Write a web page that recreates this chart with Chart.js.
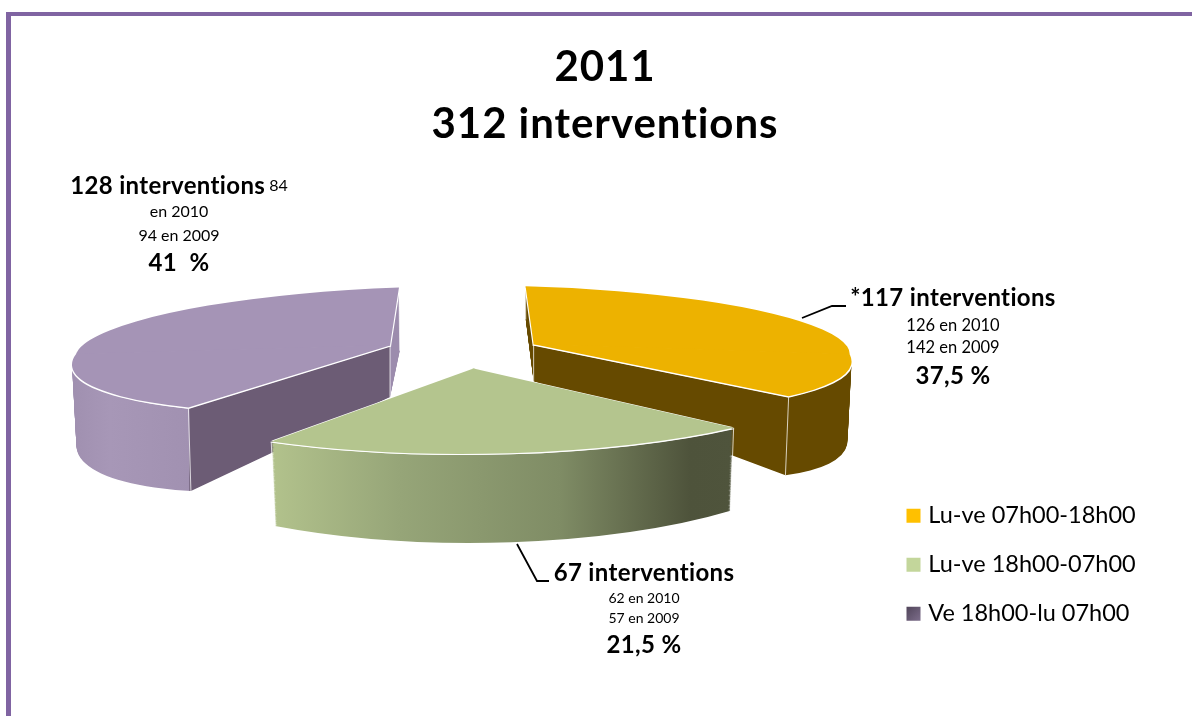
<!DOCTYPE html>
<html>
<head>
  <title>2011 - 312 interventions</title>
  <script src="https://cdn.jsdelivr.net/npm/chart.js"></script>
  <style>
    body { margin: 0; background: #fff; overflow: hidden; }
    canvas { position: absolute; left: 0; top: 0; }
    .frame { position: absolute; background: #8064a2; }
    .frame.top { left: 6px; right: 0; top: 12px; height: 4px; }
    .frame.left { left: 6px; top: 12px; bottom: 0; width: 5px; }
  </style>
</head>
<body>
  <div class="frame top"></div>
  <div class="frame left"></div>
  <canvas id="pie" width="1192" height="716"></canvas>
  <script>
    const titleLines = ['2011', '312 interventions'];
    const categories = ['Lu-ve 07h00-18h00', 'Lu-ve 18h00-07h00', 'Ve 18h00-lu 07h00'];
    const interventions = [117, 67, 128];

    // one row per text line: [bold part, regular part]
    const calloutYellow = [['*117 interventions', ''], ['', '126 en 2010'], ['', '142 en 2009'], ['37,5 %', '']];
    const calloutGreen = [['67 interventions', ''], ['', '62 en 2010'], ['', '57 en 2009'], ['21,5 %', '']];
    const calloutPurple = [['128 interventions', ' 84'], ['', 'en 2010'], ['', '94 en 2009'], ['41  %', '']];

    const sliceColors = ['#edb200', '#b4c58e', '#a594b6'];
    const swatchColors = ['#ffc000', '#c3d69b', ['#4f4358', '#7b6c89']];

    const FONT = 'Lato';
    const RADIUS = 316;
    const EXPLODE = 78;
    const TILT = 0.24;
    const LAYERS = 100;
    const PIE_SHIFT_X = -11;

    // the 3d look: an affine map for the top and the bottom face of each slice
    const faces = [
      {
        top: { dx: -1, dy: 2, sx: 1, sy: 0.032, back: [-0.0095, 0.1824], front: [0.111, 0.207] },
        bottom: { dx: -1, dy: 39, sx: 0.987, sy: 0.161, back: [-0.0095, 0.19], front: [0.11, 0.264] }
      },
      {
        top: { dx: -1.5, dy: 0, sx: 1.176, sy: 0.0048, back: [-0.054, 0.27], front: [-0.054, 0.27] },
        bottom: { dx: -3.5, dy: 65, sx: 1.16, sy: 0.012, back: [-0.042, 0.346], front: [-0.042, 0.346] }
      },
      {
        top: { dx: 2, dy: 0, sx: 0.994, sy: -0.028, back: [-0.063, 0.1845], front: [-0.158, 0.2115] },
        bottom: { dx: 2, dy: 51.5, sx: 0.98, sy: -0.11, back: [-0.065, 0.15], front: [-0.157, 0.281] }
      }
    ];

    const drawOrder = [2, 0, 1];

    function lerp(a, b, t) { return a + (b - a) * t; }

    function faceAt(arc, i, t) {
      const f = faces[i];
      const mid = (arc.startAngle + arc.endAngle) / 2;
      return {
        ax: arc.x + PIE_SHIFT_X + EXPLODE * Math.cos(mid) + lerp(f.top.dx, f.bottom.dx, t),
        ay: arc.y + EXPLODE * TILT * Math.sin(mid) + lerp(f.top.dy, f.bottom.dy, t),
        sx: lerp(f.top.sx, f.bottom.sx, t),
        sy: lerp(f.top.sy, f.bottom.sy, t),
        back: [lerp(f.top.back[0], f.bottom.back[0], t), lerp(f.top.back[1], f.bottom.back[1], t)],
        front: [lerp(f.top.front[0], f.bottom.front[0], t), lerp(f.top.front[1], f.bottom.front[1], t)]
      };
    }

    function paintFace(ctx, arc, p) {
      const R = arc.outerRadius;
      [p.back, p.front].forEach((half, n) => {
        ctx.save();
        ctx.translate(p.ax, p.ay);
        ctx.transform(p.sx, p.sy, half[0], half[1], 0, 0);
        ctx.translate(-arc.x, -arc.y);
        ctx.beginPath();
        ctx.rect(arc.x - 2 * R, n === 0 ? arc.y - 2 * R : arc.y - 2, 4 * R, 2 * R + 2);
        ctx.clip();
        arc.draw(ctx);
        ctx.restore();
      });
    }

    function cornerAt(arc, p, angle) {
      const u = arc.outerRadius * Math.cos(angle);
      const v = arc.outerRadius * Math.sin(angle);
      const half = v < 0 ? p.back : p.front;
      return [p.ax + p.sx * u + half[0] * v, p.ay + p.sy * u + half[1] * v];
    }

    // wall colours along the screen x axis
    function wallStops(arc, i) {
      if (i === 0) return [[0, '#664a00'], [1192, '#664a00']];
      if (i === 1) {
        return [[272, '#b2c28c'], [400, '#96a578'], [560, '#7f8c65'], [690, '#4e533b'], [736, '#4f543c']];
      }
      const mid = faceAt(arc, i, 0.5);
      const corner = cornerAt(arc, mid, arc.startAngle)[0];
      return [[73, '#a090b0'], [110, '#a797b7'], [corner - 0.5, '#a191b1'], [corner, '#6c5c75'],
        [mid.ax - 0.5, '#6c5c75'], [mid.ax, '#9c8cad'], [402, '#9c8cad']];
    }

    function paintWalls(ctx, arc, i) {
      const base = arc.options;
      const off = document.createElement('canvas');
      off.width = ctx.canvas.width;
      off.height = ctx.canvas.height;
      const offCtx = off.getContext('2d');
      arc.options = Object.assign({}, base, { backgroundColor: '#000' });
      for (let n = LAYERS; n > 0; n--) {
        paintFace(offCtx, arc, faceAt(arc, i, n / LAYERS));
      }
      arc.options = base;
      const stops = wallStops(arc, i);
      const x0 = stops[0][0];
      const x1 = stops[stops.length - 1][0];
      const grad = offCtx.createLinearGradient(x0, 0, x1, 0);
      stops.forEach(s => grad.addColorStop((s[0] - x0) / (x1 - x0), s[1]));
      offCtx.globalCompositeOperation = 'source-in';
      offCtx.fillStyle = grad;
      offCtx.fillRect(0, 0, off.width, off.height);
      ctx.drawImage(off, 0, 0);

      // pale seams on the wall corners
      ctx.save();
      ctx.strokeStyle = 'rgba(255,255,255,0.75)';
      ctx.lineWidth = 1;
      const t0 = faceAt(arc, i, 0);
      const t1 = faceAt(arc, i, 1);
      [arc.startAngle, arc.endAngle].forEach(a => {
        const up = cornerAt(arc, t0, a);
        const down = cornerAt(arc, t1, a);
        ctx.beginPath();
        ctx.moveTo(up[0], up[1]);
        ctx.lineTo(down[0], down[1]);
        ctx.stroke();
      });
      ctx.beginPath();
      ctx.moveTo(t0.ax, t0.ay);
      ctx.lineTo(t1.ax, t1.ay);
      ctx.stroke();
      ctx.restore();
    }

    // top face, with a thin white rim showing round it
    function paintTop(ctx, arc, i) {
      const base = arc.options;
      arc.options = Object.assign({}, base, { backgroundColor: '#fff' });
      [[1, 1.2], [-1, 1.2], [0, -0.6]].forEach(shift => {
        const p = faceAt(arc, i, 0);
        p.ax += shift[0];
        p.ay += shift[1];
        paintFace(ctx, arc, p);
      });
      arc.options = base;
      paintFace(ctx, arc, faceAt(arc, i, 0));
    }

    // Lato would join "ti" and runs narrower than the original font
    function setSpacing(ctx, px) {
      ctx.textRendering = 'optimizeSpeed';
      ctx.letterSpacing = px + 'px';
    }

    const slices3d = {
      id: 'slices3d',
      afterLayout(chart) {
        // legend sits low in the right column
        const legend = chart.legend;
        legend.left = 885;
        legend.top = 478.5;
        legend.bottom = 700;
        const title = chart.titleBlock;
        const drawTitle = title.draw;
        title.draw = function (area) {
          setSpacing(chart.ctx, 0.95);
          drawTitle.call(title, area);
          setSpacing(chart.ctx, 0);
        };
      },
      beforeDatasetsDraw(chart) {
        const ctx = chart.ctx;
        const arcs = chart.getDatasetMeta(0).data;
        drawOrder.forEach(i => {
          paintWalls(ctx, arcs[i], i);
          paintTop(ctx, arcs[i], i);
        });
        return false;
      }
    };

    function drawCallout(ctx, rows, cx, ys, sizes) {
      ctx.textBaseline = 'middle';
      ctx.textAlign = 'left';
      ctx.fillStyle = '#000';
      rows.forEach((row, r) => {
        const boldFont = 'bold ' + sizes.bold + 'px ' + FONT;
        const thinFont = sizes.thin + 'px ' + FONT;
        ctx.font = boldFont;
        setSpacing(ctx, 0.35);
        const w0 = ctx.measureText(row[0]).width;
        ctx.font = thinFont;
        setSpacing(ctx, 0);
        const w1 = ctx.measureText(row[1]).width;
        let x = cx - (w0 + w1) / 2;
        if (row[0]) {
          ctx.font = boldFont;
          setSpacing(ctx, 0.35);
          ctx.fillText(row[0], x, ys[r]);
          x += w0;
        }
        if (row[1]) {
          ctx.font = thinFont;
          setSpacing(ctx, 0);
          ctx.fillText(row[1], x, ys[r]);
        }
      });
    }

    function drawLeader(ctx, pts) {
      ctx.save();
      ctx.strokeStyle = '#000';
      ctx.lineWidth = 1.8;
      ctx.beginPath();
      pts.forEach((p, n) => (n ? ctx.lineTo(p[0], p[1]) : ctx.moveTo(p[0], p[1])));
      ctx.stroke();
      ctx.restore();
    }

    const callouts = {
      id: 'callouts',
      afterDraw(chart) {
        const ctx = chart.ctx;
        drawLeader(ctx, [[802, 318], [832, 306], [846, 306]]);
        drawLeader(ctx, [[517, 544], [537, 581], [549, 581]]);
        drawCallout(ctx, calloutYellow, 953, [298, 326, 348, 376], { bold: 24, thin: 16.5 });
        drawCallout(ctx, calloutGreen, 644, [573, 598, 618, 645], { bold: 24, thin: 14 });
        drawCallout(ctx, calloutPurple, 179, [186, 212, 236, 263], { bold: 24, thin: 16 });
      }
    };

    const canvas = document.getElementById('pie');

    function swatch(index) {
      const c = swatchColors[index];
      if (!Array.isArray(c)) return c;
      const grad = canvas.getContext('2d').createLinearGradient(906, 606, 920, 620);
      grad.addColorStop(0, c[0]);
      grad.addColorStop(1, c[1]);
      return grad;
    }

    new Chart(canvas, {
      type: 'pie',
      data: {
        labels: categories,
        datasets: [{
          data: interventions,
          backgroundColor: sliceColors,
          borderWidth: 0
        }]
      },
      plugins: [slices3d, callouts],
      options: {
        responsive: false,
        animation: false,
        events: [],
        rotation: -2,
        radius: RADIUS,
        layout: { padding: { left: 47, right: 29, top: 0, bottom: 177 } },
        plugins: {
          tooltip: { enabled: false },
          title: {
            display: true,
            text: titleLines,
            color: '#000',
            font: { family: FONT, weight: 'bold', size: 42, lineHeight: 57 / 42 },
            padding: { top: 39, bottom: 8 }
          },
          legend: {
            position: 'right',
            align: 'start',
            fullSize: false,
            labels: {
              color: '#000',
              font: { family: FONT, size: 23.5 },
              // small box plus a wide stroke: keeps the text close to a 14px swatch
              boxWidth: 6,
              boxHeight: 6,
              padding: 25.5,
              generateLabels: () => categories.map((text, index) => ({
                text: text,
                index: index,
                fillStyle: swatch(index),
                strokeStyle: swatch(index),
                lineWidth: 8
              }))
            }
          }
        }
      }
    });
  </script>
</body>
</html>
